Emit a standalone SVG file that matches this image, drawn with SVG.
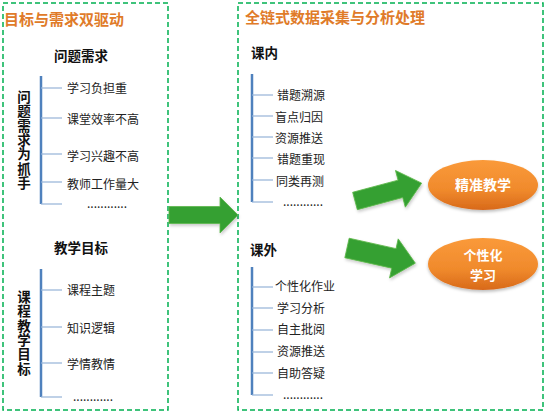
<svg xmlns="http://www.w3.org/2000/svg" width="548" height="413" viewBox="0 0 548 413">
<defs>
<style>
.box{fill:none;stroke:#00B050;stroke-width:1.5;stroke-dasharray:5 3}
.title{font-family:"Noto Sans CJK SC","Noto Sans",sans-serif;font-size:15px;font-weight:bold;fill:#E07B29}
.head{font-family:"Noto Sans CJK SC","Noto Sans",sans-serif;font-size:13.5px;font-weight:bold;fill:#111}
.vert{font-family:"Noto Sans CJK SC","Noto Sans",sans-serif;font-size:13.5px;font-weight:bold;fill:#111;writing-mode:vertical-rl;letter-spacing:0.9px}
.item{font-family:"Noto Sans CJK SC","Noto Sans",sans-serif;font-size:12px;fill:#222;dominant-baseline:central}
.trunk{stroke:#4F81BD;stroke-width:2.5;fill:none}
.branch{stroke:#95B3D7;stroke-width:1.2;fill:none}
.arrow{fill:#36A033;stroke:#5DB84A;stroke-width:0.8}
.oval{fill:url(#og);filter:url(#sh)}
.otext{font-family:"Noto Sans CJK SC","Noto Sans",sans-serif;font-size:14px;font-weight:bold;fill:#fff;text-anchor:middle;dominant-baseline:central}
.otext2{font-size:13px}
</style>
<linearGradient id="og" x1="0" y1="0" x2="0" y2="1">
<stop offset="0" stop-color="#FA9A3A"/>
<stop offset="0.6" stop-color="#F08A2C"/>
<stop offset="1" stop-color="#D8691A"/>
</linearGradient>
<filter id="sh" x="-20%" y="-20%" width="140%" height="150%">
<feDropShadow dx="0" dy="2" stdDeviation="1.5" flood-color="#000" flood-opacity="0.25"/>
</filter>
<filter id="ash" x="-20%" y="-30%" width="140%" height="160%">
<feDropShadow dx="1" dy="2" stdDeviation="1.5" flood-color="#000" flood-opacity="0.2"/>
</filter>
</defs>
<rect width="548" height="413" fill="#fff"/>

<g id="left-panel">
<rect class="box" x="3" y="3" width="165" height="407"/>
<text class="title" x="4" y="25">目标与需求双驱动</text>
</g>

<g id="right-panel">
<rect class="box" x="238" y="3" width="305" height="407"/>
<text class="title" x="245" y="23">全链式数据采集与分析处理</text>
</g>

<g id="problem-needs">
<text class="head" x="54" y="61">问题需求</text>
<text class="vert" x="24" y="90">问题需求为抓手</text>
<line class="trunk" x1="41" y1="76" x2="41" y2="204"/>
<line class="branch" x1="41" y1="88" x2="62" y2="88"/>
<line class="branch" x1="41" y1="118" x2="62" y2="118"/>
<line class="branch" x1="41" y1="154" x2="62" y2="154"/>
<line class="branch" x1="41" y1="182" x2="62" y2="182"/>
<line class="branch" x1="41" y1="204" x2="62" y2="204"/>
<text class="item" x="67" y="87">学习负担重</text>
<text class="item" x="67" y="118">课堂效率不高</text>
<text class="item" x="67" y="155">学习兴趣不高</text>
<text class="item" x="67" y="183">教师工作量大</text>
<text class="item" x="87" y="202">............</text>
</g>

<g id="teaching-goals">
<text class="head" x="54" y="253">教学目标</text>
<text class="vert" x="24" y="290">课程教学目标</text>
<line class="trunk" x1="41" y1="269" x2="41" y2="397"/>
<line class="branch" x1="41" y1="290" x2="62" y2="290"/>
<line class="branch" x1="41" y1="327" x2="62" y2="327"/>
<line class="branch" x1="41" y1="363" x2="62" y2="363"/>
<line class="branch" x1="41" y1="397" x2="62" y2="397"/>
<text class="item" x="67" y="289">课程主题</text>
<text class="item" x="67" y="327">知识逻辑</text>
<text class="item" x="67" y="363">学情教情</text>
<text class="item" x="73" y="395">............</text>
</g>

<g id="in-class">
<text class="head" x="251" y="58">课内</text>
<line class="trunk" x1="252" y1="74" x2="252" y2="202"/>
<line class="branch" x1="252" y1="95" x2="273" y2="95"/>
<line class="branch" x1="252" y1="116" x2="273" y2="116"/>
<line class="branch" x1="252" y1="137" x2="273" y2="137"/>
<line class="branch" x1="252" y1="158" x2="273" y2="158"/>
<line class="branch" x1="252" y1="180" x2="273" y2="180"/>
<line class="branch" x1="252" y1="202" x2="273" y2="202"/>
<text class="item" x="277" y="94">错题溯源</text>
<text class="item" x="275" y="116">盲点归因</text>
<text class="item" x="275" y="137">资源推送</text>
<text class="item" x="277" y="158">错题重现</text>
<text class="item" x="276" y="180">同类再测</text>
<text class="item" x="283" y="200">............</text>
</g>

<g id="after-class">
<text class="head" x="250" y="255">课外</text>
<line class="trunk" x1="252" y1="267" x2="252" y2="395"/>
<line class="branch" x1="252" y1="287" x2="273" y2="287"/>
<line class="branch" x1="252" y1="308" x2="273" y2="308"/>
<line class="branch" x1="252" y1="330" x2="273" y2="330"/>
<line class="branch" x1="252" y1="352" x2="273" y2="352"/>
<line class="branch" x1="252" y1="373" x2="273" y2="373"/>
<line class="branch" x1="252" y1="395" x2="273" y2="395"/>
<text class="item" x="275" y="285">个性化作业</text>
<text class="item" x="277" y="307">学习分析</text>
<text class="item" x="277" y="328">自主批阅</text>
<text class="item" x="277" y="350">资源推送</text>
<text class="item" x="277" y="372">自助答疑</text>
<text class="item" x="283" y="393">............</text>
</g>

<g id="precise-teaching">
<ellipse class="oval" cx="483" cy="185" rx="55" ry="25"/>
<text class="otext" x="483" y="184">精准教学</text>
</g>

<g id="personalized-learning">
<ellipse class="oval" cx="483" cy="264" rx="55" ry="26"/>
<text class="otext otext2" x="483" y="254.5">个性化</text>
<text class="otext otext2" x="483" y="274">学习</text>
</g>

<g id="connectors" filter="url(#ash)">
<polygon class="arrow" points="169,206.5 220,206.5 220,197 238,215 220,233 220,223.5 169,223.5"/>
<polygon class="arrow" transform="translate(355,201) rotate(-15)" points="0,-9 47,-9 47,-19 69,0 47,19 47,9 0,9"/>
<polygon class="arrow" transform="translate(347,248) rotate(12.5)" points="0,-10 48,-10 48,-20 70,0 48,20 48,10 0,10"/>
</g>
</svg>
